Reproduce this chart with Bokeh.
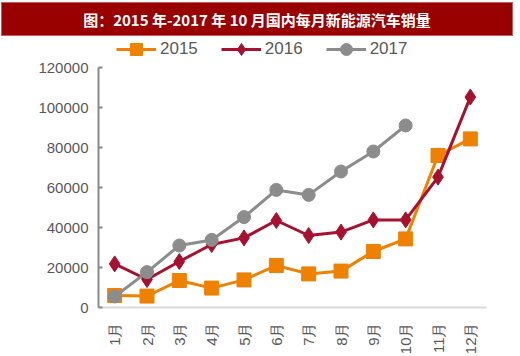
from math import pi
from bokeh.plotting import figure
from bokeh.models import Div, FactorRange, Range1d, Legend, LegendItem, FixedTicker, NumeralTickFormatter
from bokeh.layouts import column
from bokeh.embed import file_html
from bokeh.resources import INLINE

title_text = "图：2015 年-2017 年 10 月国内每月新能源汽车销量"
months = ["1月", "2月", "3月", "4月", "5月", "6月", "7月", "8月", "9月", "10月", "11月", "12月"]
sales_2015 = [6000, 5700, 13500, 9700, 13800, 21000, 16800, 18200, 28000, 34300, 76000, 84300]
sales_2016 = [21800, 14000, 23000, 31500, 34800, 43500, 36000, 37700, 43800, 43800, 65200, 105200]
sales_2017 = [5500, 17700, 31000, 33800, 45200, 58800, 56300, 68000, 78000, 91000]
y_ticks = [0, 20000, 40000, 60000, 80000, 100000, 120000]

banner = Div(
    text=('<div style="background:#990000;color:#ffffff;width:512px;height:34px;'
          'line-height:34px;text-align:center;font-weight:bold;font-size:15px;'
          'font-family:\'Noto Sans CJK SC\';border:1px solid #c06060;box-sizing:border-box;">'
          + title_text + '</div>'),
    width=513, height=34, margin=(2, 0, 0, 1),
)

p = figure(
    width=520, frame_width=388, frame_height=271,
    x_range=FactorRange(*months, range_padding=0),
    y_range=Range1d(0, 135500),
    output_backend="svg", toolbar_location=None,
    min_border_left=98, min_border_right=34, min_border_top=0, min_border_bottom=40,
)
p.outline_line_color = None
p.xgrid.grid_line_color = None
p.ygrid.grid_line_color = None
p.background_fill_color = "white"

c15, c16, c17 = "#EE8100", "#A6112F", "#8C8C8C"

l15 = p.line(months, sales_2015, line_color=c15, line_width=3)
m15 = p.scatter(months, sales_2015, marker="square", size=14, fill_color=c15, line_color=c15)
l16 = p.line(months, sales_2016, line_color=c16, line_width=3)
m16 = p.scatter(months, sales_2016, marker="diamond", size=16, fill_color=c16, line_color=c16)
l17 = p.line(months[:len(sales_2017)], sales_2017, line_color=c17, line_width=3)
m17 = p.scatter(months[:len(sales_2017)], sales_2017, marker="circle", size=13, fill_color=c17, line_color=c17)

legend = Legend(
    items=[LegendItem(label="2015", renderers=[l15, m15]),
           LegendItem(label="2016", renderers=[l16, m16]),
           LegendItem(label="2017", renderers=[l17, m17])],
    orientation="horizontal", location=(18, 243),
    glyph_width=40, glyph_height=30, label_height=30, label_standoff=4, spacing=23,
    padding=0, margin=0, border_line_color=None, background_fill_alpha=0,
    label_text_font="Liberation Sans", label_text_font_size="17px", label_text_color="#595959",
)
p.add_layout(legend)

ya = p.yaxis[0]
ya.bounds = (0, 120000)
ya.ticker = FixedTicker(ticks=y_ticks)
ya.formatter = NumeralTickFormatter(format="0")
ya.axis_line_color = "#898989"
ya.axis_line_width = 2
ya.major_tick_line_color = "#898989"
ya.major_tick_line_width = 2
ya.major_tick_in = 4
ya.major_tick_out = 0
ya.minor_tick_line_color = None
ya.major_label_text_font = "Liberation Sans"
ya.major_label_text_font_size = "15px"
ya.major_label_text_color = "#595959"
ya.major_label_standoff = 10

xa = p.xaxis[0]
xa.axis_line_color = "#D9D9D9"
xa.axis_line_width = 2
xa.major_tick_line_color = None
xa.minor_tick_line_color = None
xa.major_label_orientation = pi / 2
xa.major_label_text_font = "Liberation Sans"
xa.major_label_text_font_size = "15px"
xa.major_label_text_color = "#595959"
xa.major_label_standoff = 9

layout = column(banner, p, spacing=0)
open("out.html", "w").write(file_html(layout, INLINE))
